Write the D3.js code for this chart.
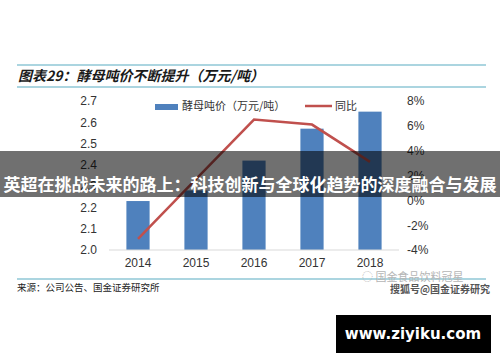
<!DOCTYPE html>
<html>
<head>
<meta charset="utf-8">
<script src="https://cdn.jsdelivr.net/npm/d3@7"></script>
<style>
  body { margin: 0; background: #fff; }
  svg { display: block; }
</style>
</head>
<body>
<div id="chart"></div>
<script>
// data
const years = ["2014", "2015", "2016", "2017", "2018"];
const price = [2.23, 2.28, 2.42, 2.57, 2.65];     // 万元/吨
const yoy = [-3.1, 1.7, 6.5, 6.1, 3.1];           // %
const leftTicks = [2.0, 2.1, 2.2, 2.3, 2.4, 2.5, 2.6, 2.7];
const rightTicks = [-4, -2, 0, 2, 4, 6, 8];

const W = 500, H = 362;
const cjk = "'Noto Sans CJK SC', sans-serif";
const num = "'Liberation Sans', Arial, sans-serif";

const svg = d3.select("#chart")
    .append("svg")
    .attr("width", W)
    .attr("height", H);

// title block with the two teal rules
svg.append("line")
    .attr("x1", 17).attr("x2", 486)
    .attr("y1", 65).attr("y2", 65)
    .attr("stroke", "#8fc7d6").attr("stroke-width", 1.5);
svg.append("line")
    .attr("x1", 17).attr("x2", 486)
    .attr("y1", 87).attr("y2", 87)
    .attr("stroke", "#8fc7d6").attr("stroke-width", 1.5);
svg.append("text")
    .attr("x", 18).attr("y", 81)
    .attr("font-family", cjk)
    .attr("font-size", 14)
    .attr("font-weight", "bold")
    .attr("font-style", "italic")
    .attr("fill", "#1a1a1a")
    .text("图表29：酵母吨价不断提升（万元/吨）");

// scales
const x = d3.scaleBand().domain(years).range([109, 399]);
const yL = d3.scaleLinear().domain([2.0, 2.7]).range([250, 101]);
const yR = d3.scaleLinear().domain([-4, 8]).range([250, 101]);

// bars
const bw = x.bandwidth() * 0.4;
svg.selectAll("rect.bar")
    .data(price)
    .enter()
    .append("rect")
    .attr("class", "bar")
    .attr("x", (d, i) => x(years[i]) + x.bandwidth() / 2 - bw / 2)
    .attr("y", d => yL(d))
    .attr("width", bw)
    .attr("height", d => yL(2.0) - yL(d))
    .attr("fill", "#4f81bd");

// base line
svg.append("line")
    .attr("x1", 109).attr("x2", 399)
    .attr("y1", yL(2.0)).attr("y2", yL(2.0))
    .attr("stroke", "#d9d9d9");

// yoy line
const line = d3.line()
    .x((d, i) => x(years[i]) + x.bandwidth() / 2)
    .y(d => yR(d));
svg.append("path")
    .datum(yoy)
    .attr("d", line)
    .attr("fill", "none")
    .attr("stroke", "#c0504d")
    .attr("stroke-width", 2.5);

// axes (labels only)
const axL = svg.append("g")
    .attr("transform", "translate(97,0)")
    .call(d3.axisLeft(yL).tickValues(leftTicks).tickFormat(d3.format(".1f")).tickSize(0).tickPadding(0));
const axR = svg.append("g")
    .attr("transform", "translate(407,0)")
    .call(d3.axisRight(yR).tickValues(rightTicks).tickFormat(d => d + "%").tickSize(0).tickPadding(0));
const axB = svg.append("g")
    .attr("transform", "translate(0,250)")
    .call(d3.axisBottom(x).tickSize(0).tickPadding(8));
[axL, axR, axB].forEach(g => {
    g.select(".domain").remove();
    g.selectAll("text")
        .attr("font-family", num)
        .attr("font-size", 12)
        .attr("fill", "#333");
});

// legend
svg.append("rect")
    .attr("x", 155).attr("y", 104)
    .attr("width", 23).attr("height", 6)
    .attr("fill", "#4f81bd");
svg.append("text")
    .attr("x", 182).attr("y", 110)
    .attr("font-family", cjk).attr("font-size", 11)
    .attr("fill", "#333")
    .text("酵母吨价（万元/吨）");
svg.append("line")
    .attr("x1", 305).attr("x2", 332)
    .attr("y1", 106).attr("y2", 106)
    .attr("stroke", "#c0504d").attr("stroke-width", 2.5);
svg.append("text")
    .attr("x", 335).attr("y", 110)
    .attr("font-family", cjk).attr("font-size", 11)
    .attr("fill", "#333")
    .text("同比");

// footer
svg.append("line")
    .attr("x1", 17).attr("x2", 486)
    .attr("y1", 279).attr("y2", 279)
    .attr("stroke", "#8fc7d6").attr("stroke-width", 1.5);
svg.append("text")
    .attr("x", 17).attr("y", 291)
    .attr("font-family", cjk).attr("font-size", 9.5)
    .attr("fill", "#222")
    .text("来源：公司公告、国金证券研究所");

// watermark
svg.append("text")
    .attr("x", 362).attr("y", 281)
    .attr("font-family", cjk).attr("font-size", 11)
    .attr("fill", "#b5b5b5")
    .text("◌ 国金食品饮料冠星");
svg.append("text")
    .attr("x", 390).attr("y", 293)
    .attr("font-family", cjk).attr("font-size", 10)
    .attr("font-weight", "bold")
    .attr("fill", "#555")
    .text("搜狐号@国金证券研究");

// banner across the chart
svg.append("rect")
    .attr("x", 0).attr("y", 151)
    .attr("width", W).attr("height", 46)
    .attr("fill", "#000").attr("fill-opacity", 0.56);
svg.append("text")
    .attr("x", W / 2).attr("y", 191)
    .attr("text-anchor", "middle")
    .attr("font-family", cjk).attr("font-size", 17)
    .attr("font-weight", "bold")
    .attr("fill", "#fff")
    .text("英超在挑战未来的路上：科技创新与全球化趋势的深度融合与发展");

// site tag
svg.append("rect")
    .attr("x", 336).attr("y", 315)
    .attr("width", 155).attr("height", 38)
    .attr("fill", "#000");
svg.append("text")
    .attr("x", 413).attr("y", 339)
    .attr("text-anchor", "middle")
    .attr("font-family", "'DejaVu Sans', sans-serif").attr("font-size", 15)
    .attr("font-weight", "bold")
    .attr("fill", "#fff")
    .text("www.ziyiku.com");
</script>
</body>
</html>
